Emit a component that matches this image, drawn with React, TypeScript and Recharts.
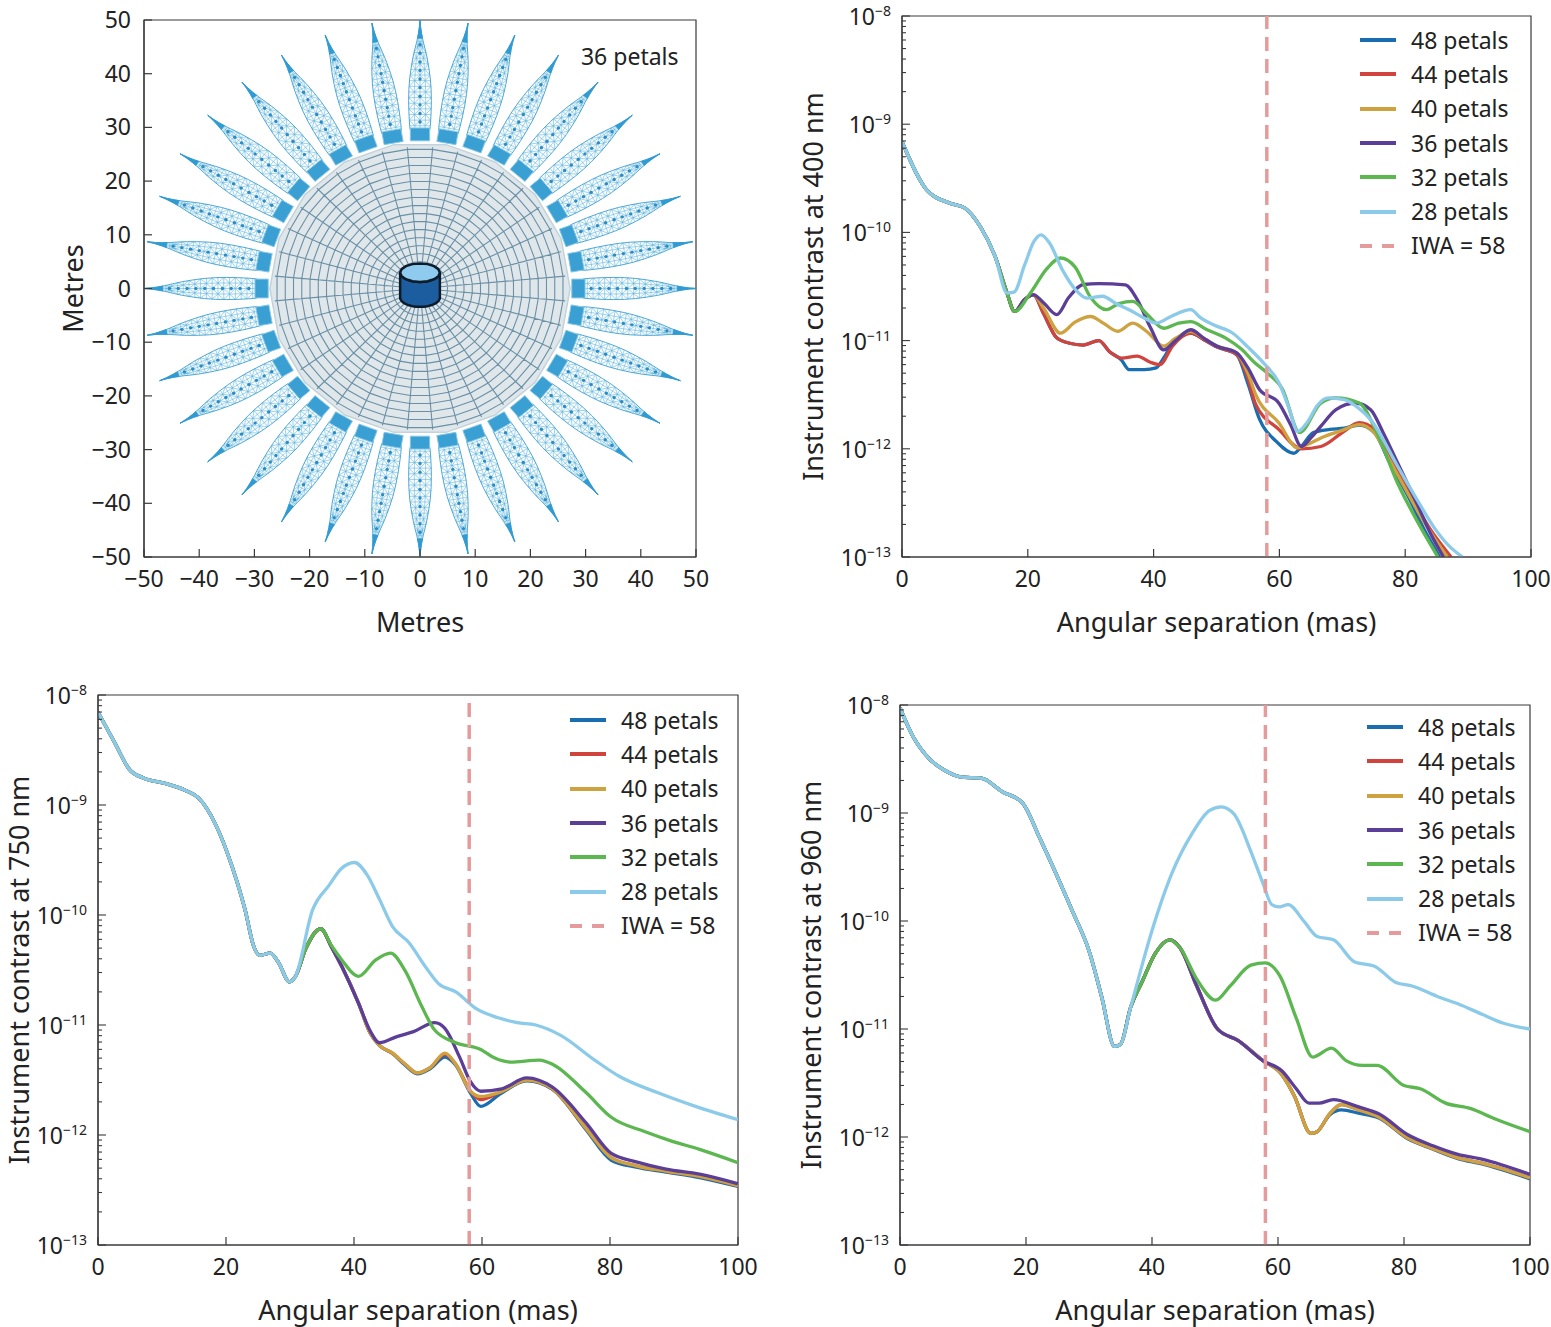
import React from 'react';
import {
  LineChart,
  Line,
  XAxis,
  YAxis,
  ReferenceLine,
  ReferenceArea,
  ReferenceDot,
  Legend,
  ScatterChart,
  Scatter,
} from 'recharts';

type Pair = [number, number];
type Pt = { x: number; y: number };

const FONT = '"Noto Sans", "Open Sans", sans-serif';
const INK = '#222';
const AXIS = '#3a3a3a';
const IWA_COLOR = '#e59b9b';

// ---- tick labels ----
const xTicks = [0, 20, 40, 60, 80, 100];
const metreTicks = [-50, -40, -30, -20, -10, 0, 10, 20, 30, 40, 50];
const decades = [-13, -12, -11, -10, -9, -8];
const minorSteps = [1, 2, 3, 4, 5, 6, 7, 8, 9];
const logTicks = decades.flatMap((d, i) =>
  i === decades.length - 1 ? [10 ** d] : minorSteps.map((k) => k * 10 ** d)
);

const SERIES = [
  { key: '48', name: '48 petals', color: '#1a6eb0' },
  { key: '44', name: '44 petals', color: '#d1443d' },
  { key: '40', name: '40 petals', color: '#cda23f' },
  { key: '36', name: '36 petals', color: '#5b3e97' },
  { key: '32', name: '32 petals', color: '#5cb750' },
  { key: '28', name: '28 petals', color: '#8ccaea' },
];
const IWA = 58;

// ---- contrast at 400 nm ----
const c400: Pair[] = [[0, 6.9e-10], [3.9, 2.48e-10], [7.5, 1.87e-10], [10, 1.68e-10], [12.4, 1.14e-10], [14.8, 6.0e-11], [16.7, 2.75e-11]];
const b400: Pair[] = [...c400, [17.9, 1.86e-11], [19.5, 2.4e-11], [20.9, 2.65e-11]];
const s400_48: Pair[] = [...b400, [22.5, 1.78e-11], [24.6, 1.06e-11], [26.5, 9.5e-12], [28.8, 9.1e-12], [31.3, 1.0e-11], [33, 7.9e-12], [34.9, 6.6e-12], [36.1, 5.4e-12], [38.5, 5.4e-12], [40.4, 5.6e-12], [41.6, 6.9e-12], [43, 9.3e-12], [45.9, 1.17e-11], [48, 1.02e-11], [50.1, 8.7e-12], [53.2, 7.4e-12], [55, 4.0e-12], [56.8, 1.9e-12], [59.5, 1.17e-12], [62.3, 9.1e-13], [63.5, 1.05e-12], [65.4, 1.41e-12], [68, 1.51e-12], [70.3, 1.55e-12], [72.7, 1.66e-12], [75.1, 1.41e-12], [77.5, 7.5e-13], [80.5, 3.6e-13], [83, 1.8e-13], [85.5, 1e-13]];
const s400_44: Pair[] = [...b400, [22.5, 1.78e-11], [24.6, 1.06e-11], [26.5, 9.5e-12], [28.8, 9.1e-12], [31.3, 1.0e-11], [33, 7.9e-12], [34.9, 6.9e-12], [37.4, 7.2e-12], [39.5, 6.3e-12], [41, 6.0e-12], [43, 8.9e-12], [45.9, 1.17e-11], [48, 1.02e-11], [50.1, 8.7e-12], [53.2, 7.4e-12], [55, 4.5e-12], [56.2, 2.6e-12], [59.9, 1.51e-12], [63.5, 1.0e-12], [66.6, 1.05e-12], [70, 1.41e-12], [72.7, 1.74e-12], [75.1, 1.51e-12], [77.5, 8.5e-13], [80.5, 4.0e-13], [84, 1.8e-13], [87.3, 1e-13]];
const s400_40: Pair[] = [...b400, [22.5, 2.0e-11], [25.2, 1.17e-11], [27.5, 1.48e-11], [30, 1.67e-11], [32, 1.45e-11], [34.3, 1.22e-11], [36.7, 1.45e-11], [39, 1.2e-11], [41.6, 8.9e-12], [43.5, 1.05e-11], [45.9, 1.22e-11], [48, 1.05e-11], [50.1, 8.9e-12], [53.2, 7.7e-12], [55, 5.0e-12], [56.2, 3.2e-12], [59.9, 1.74e-12], [62.9, 1.02e-12], [64.5, 1.1e-12], [66.6, 1.26e-12], [70, 1.48e-12], [72.7, 1.67e-12], [75.1, 1.4e-12], [77.5, 7.9e-13], [80, 4.3e-13], [83, 2.1e-13], [86.7, 1e-13]];
const s400_36: Pair[] = [...b400, [22.5, 2.24e-11], [24.6, 1.74e-11], [26.5, 2.5e-11], [28.8, 3.3e-11], [31.3, 3.36e-11], [35.5, 3.28e-11], [37.4, 2.39e-11], [39.5, 1.32e-11], [41.6, 8.2e-12], [43.5, 1.0e-11], [45.9, 1.26e-11], [48, 1.05e-11], [50.1, 8.85e-12], [53.2, 7.7e-12], [55, 5.6e-12], [56.8, 3.55e-12], [59.9, 2.65e-12], [61.8, 1.66e-12], [63.5, 1.05e-12], [65, 1.26e-12], [66.6, 1.62e-12], [69, 2.3e-12], [72.1, 2.65e-12], [74.5, 2.3e-12], [76.5, 1.41e-12], [78.8, 7.4e-13], [82, 3.0e-13], [84, 1.66e-13], [86.1, 1e-13]];
const s400_32: Pair[] = [...c400, [17.9, 1.86e-11], [20.5, 2.8e-11], [23, 4.6e-11], [25.2, 5.8e-11], [27.5, 4.8e-11], [30, 2.5e-11], [32.5, 1.93e-11], [34.5, 2.2e-11], [36.7, 2.3e-11], [39, 1.74e-11], [41.6, 1.3e-11], [44, 1.45e-11], [45.9, 1.5e-11], [48.5, 1.26e-11], [51.4, 1.06e-11], [54, 8.3e-12], [56, 6.3e-12], [58.1, 5.0e-12], [60.5, 3.55e-12], [63.2, 1.41e-12], [66.6, 2.65e-12], [69, 2.95e-12], [72.7, 2.65e-12], [75.5, 1.41e-12], [78.8, 4.8e-13], [82, 2.1e-13], [85.2, 1e-13]];
const s400_28: Pair[] = [...c400, [17.8, 2.8e-11], [19.5, 5.0e-11], [21, 8.3e-11], [22.1, 9.5e-11], [23.5, 7.9e-11], [25.5, 4.5e-11], [27.6, 2.95e-11], [29.4, 2.47e-11], [31.9, 2.57e-11], [34, 2.2e-11], [36.1, 1.93e-11], [38.5, 1.62e-11], [40.4, 1.45e-11], [43, 1.7e-11], [45.9, 1.93e-11], [47.5, 1.62e-11], [49.5, 1.4e-11], [52.6, 1.17e-11], [55, 8.7e-12], [57.5, 6.2e-12], [59.9, 4.1e-12], [61.5, 2.4e-12], [62.9, 1.45e-12], [64.5, 1.78e-12], [66, 2.5e-12], [67.8, 2.95e-12], [70.3, 2.85e-12], [72.5, 2.4e-12], [74.5, 1.86e-12], [78.8, 6.9e-13], [82, 3.3e-13], [84.8, 1.8e-13], [87, 1.26e-13], [89.1, 1e-13]];

// ---- contrast at 750 nm ----
const c750: Pair[] = [[0, 6.98e-9], [2.6, 3.7e-9], [4.9, 2.11e-9], [7.2, 1.75e-9], [10.5, 1.57e-9], [13.75, 1.35e-9], [15.7, 1.16e-9], [18.4, 6.6e-10], [21, 2.7e-10], [23, 1.1e-10], [24.3, 5.25e-11], [25.3, 4.3e-11], [26.9, 4.5e-11], [28.2, 3.7e-11], [29.9, 2.47e-11], [30.85, 2.77e-11]];
const b750: Pair[] = [...c750, [32.5, 5.0e-11], [34.8, 7.5e-11], [36.5, 5.1e-11], [38.1, 3.4e-11], [40.7, 1.58e-11]];
const s750_48: Pair[] = [...b750, [42.5, 8.5e-12], [44, 6.5e-12], [46, 5.5e-12], [48, 4.3e-12], [49.9, 3.6e-12], [51.9, 4.0e-12], [54.2, 5.1e-12], [55.9, 4.3e-12], [58.2, 2.4e-12], [59.8, 1.82e-12], [62.8, 2.35e-12], [67, 3.1e-12], [71, 2.6e-12], [76.25, 1.12e-12], [80.2, 5.9e-13], [84.1, 5.1e-13], [88.75, 4.6e-13], [94, 4.1e-13], [100, 3.4e-13]];
const s750_44: Pair[] = [...b750, [42.5, 8.5e-12], [44, 6.5e-12], [46, 5.55e-12], [48, 4.4e-12], [49.9, 3.67e-12], [51.9, 4.1e-12], [54.2, 5.4e-12], [55.9, 4.4e-12], [58.2, 2.5e-12], [59.8, 2.1e-12], [62.8, 2.45e-12], [67, 3.16e-12], [71, 2.63e-12], [76.25, 1.15e-12], [80.2, 6.2e-13], [84.1, 5.25e-13], [88.75, 4.7e-13], [94, 4.2e-13], [100, 3.47e-13]];
const s750_40: Pair[] = [...b750, [42.5, 8.5e-12], [44, 6.5e-12], [46, 5.55e-12], [48, 4.4e-12], [49.9, 3.67e-12], [51.9, 4.1e-12], [54.2, 5.55e-12], [55.9, 4.4e-12], [58.2, 2.5e-12], [59.8, 2.24e-12], [62.8, 2.45e-12], [67, 3.16e-12], [71, 2.63e-12], [76.25, 1.15e-12], [80.2, 6.2e-13], [84.1, 5.25e-13], [88.75, 4.7e-13], [94, 4.2e-13], [100, 3.47e-13]];
const s750_36: Pair[] = [...b750, [42.5, 8.9e-12], [44, 6.9e-12], [46.6, 7.8e-12], [49.3, 8.7e-12], [52.6, 1.05e-11], [54.2, 9.3e-12], [56.5, 5.1e-12], [58.2, 3.05e-12], [59.8, 2.5e-12], [63.1, 2.63e-12], [67, 3.3e-12], [71, 2.72e-12], [76.25, 1.29e-12], [80.2, 6.8e-13], [84.1, 5.7e-13], [88.75, 4.9e-13], [94, 4.4e-13], [100, 3.6e-13]];
const s750_32: Pair[] = [...c750, [32.5, 5.0e-11], [34.8, 7.5e-11], [36.5, 5.25e-11], [38.1, 3.9e-11], [40.7, 2.77e-11], [43.4, 3.9e-11], [45.7, 4.5e-11], [48, 3.1e-11], [50.6, 1.47e-11], [52.6, 9.0e-12], [55.9, 6.9e-12], [59.8, 6.0e-12], [62, 5.0e-12], [64.4, 4.6e-12], [69, 4.8e-12], [71, 4.4e-12], [76.25, 2.43e-12], [80.2, 1.45e-12], [85.5, 1.07e-12], [89.4, 8.9e-13], [94, 7.4e-13], [100, 5.6e-13]];
const s750_28: Pair[] = [...c750, [33.5, 1.1e-10], [36.1, 1.86e-10], [38, 2.63e-10], [40.1, 3.0e-10], [42, 2.34e-10], [44, 1.38e-10], [46, 7.9e-11], [48.6, 5.6e-11], [51.25, 3.33e-11], [53.2, 2.38e-11], [55.9, 2.0e-11], [59.1, 1.41e-11], [62.4, 1.17e-11], [65.5, 1.05e-11], [68.4, 1.0e-11], [72.3, 8.05e-12], [77.6, 4.8e-12], [81.5, 3.4e-12], [87.4, 2.43e-12], [93.35, 1.82e-12], [100, 1.38e-12]];

// ---- contrast at 960 nm ----
const c960: Pair[] = [[0, 9.4e-9], [2, 5.2e-9], [4.7, 3.16e-9], [7, 2.5e-9], [9.6, 2.16e-9], [12.9, 2.1e-9], [16.2, 1.58e-9], [19.5, 1.23e-9], [22.1, 6.0e-10], [24.7, 2.8e-10], [27.4, 1.22e-10], [30, 5.3e-11], [32, 2.0e-11], [34.05, 6.9e-12], [35, 7.2e-12], [36.6, 1.58e-11]];
const p960: Pair[] = [...c960, [38.5, 2.8e-11], [40.5, 5.0e-11], [42.8, 6.7e-11], [44.5, 5.6e-11]];
const b960: Pair[] = [...p960, [47.1, 2.5e-11], [50.4, 1.0e-11], [53.7, 7.8e-12], [57.6, 5.1e-12]];
const s960_48: Pair[] = [...b960, [60.6, 3.8e-12], [62.6, 2.4e-12], [65.2, 1.08e-12], [66.2, 1.12e-12], [68.2, 1.6e-12], [70.1, 1.78e-12], [72.8, 1.66e-12], [76, 1.5e-12], [80.6, 9.6e-13], [84.6, 7.7e-13], [88.55, 6.3e-13], [92.5, 5.6e-13], [100, 4.1e-13]];
const s960_44: Pair[] = [...b960, [60.6, 3.8e-12], [62.6, 2.4e-12], [65.2, 1.08e-12], [66.2, 1.12e-12], [68.2, 1.64e-12], [70.1, 2.0e-12], [72.8, 1.78e-12], [76, 1.53e-12], [80.6, 9.8e-13], [84.6, 7.8e-13], [88.55, 6.4e-13], [92.5, 5.7e-13], [100, 4.2e-13]];
const s960_40: Pair[] = [...b960, [60.6, 3.8e-12], [62.6, 2.4e-12], [65.2, 1.08e-12], [66.2, 1.12e-12], [68.2, 1.64e-12], [70.1, 2.0e-12], [72.8, 1.78e-12], [76, 1.53e-12], [80.6, 9.8e-13], [84.6, 7.8e-13], [88.55, 6.4e-13], [92.5, 5.7e-13], [100, 4.2e-13]];
const s960_36: Pair[] = [...b960, [60.6, 4.1e-12], [62.9, 2.8e-12], [64.9, 2.06e-12], [66.5, 2.06e-12], [68.8, 2.22e-12], [72.8, 1.9e-12], [76, 1.64e-12], [80.6, 1.05e-12], [84.6, 8.3e-13], [88.55, 6.9e-13], [92.5, 6.2e-13], [100, 4.5e-13]];
const s960_32: Pair[] = [...p960, [47.1, 2.9e-11], [50.1, 1.85e-11], [52.4, 2.5e-11], [55.7, 3.9e-11], [58, 4.1e-11], [60.3, 3.1e-11], [62.9, 1.26e-11], [65.5, 5.5e-12], [68.5, 6.65e-12], [70.8, 5.1e-12], [73.4, 4.6e-12], [75.7, 4.6e-12], [80, 3.0e-12], [82.6, 2.8e-12], [86.6, 2.06e-12], [90.5, 1.84e-12], [94.5, 1.47e-12], [100, 1.12e-12]];
const s960_28: Pair[] = [...c960, [39.9, 7.8e-11], [43.2, 2.8e-10], [46.4, 6.5e-10], [49.1, 1.05e-9], [51, 1.14e-9], [53, 9.8e-10], [55.7, 4.4e-10], [57.6, 2.24e-10], [59, 1.42e-10], [60.2, 1.35e-10], [61.6, 1.42e-10], [64.2, 9.8e-11], [66.2, 7.2e-11], [68.8, 6.7e-11], [72.1, 4.2e-11], [75.4, 3.8e-11], [78.7, 2.7e-11], [81.3, 2.5e-11], [85.3, 2.0e-11], [88.55, 1.71e-11], [92.5, 1.36e-11], [95.8, 1.13e-11], [100, 1.0e-11]];

const data400 = { '48': s400_48, '44': s400_44, '40': s400_40, '36': s400_36, '32': s400_32, '28': s400_28 };
const data750 = { '48': s750_48, '44': s750_44, '40': s750_40, '36': s750_36, '32': s750_32, '28': s750_28 };
const data960 = { '48': s960_48, '44': s960_44, '40': s960_40, '36': s960_36, '32': s960_32, '28': s960_28 };

// ---- starshade layout (metres) ----
const PETAL_COUNT = 36;
// radius along petal, half-width of petal
const petalProfile: Pair[] = [[29.6, 1.8], [31, 1.92], [33, 2.02], [35, 2.06], [37, 2.02], [39, 1.88], [41, 1.62], [43, 1.28], [44.5, 0.95], [46, 0.58], [47.5, 0.28], [48.8, 0.1], [50.2, 0]];
const diskRadius = 27.2;
const ringRadii = [5, 6.5, 8, 9.5, 11, 12.5, 14, 15.5, 17, 18.5, 20, 21.5, 23, 24.5, 26];
const block = { inner: 27.5, outer: 29.9, half: 1.75 };
const hub = { rx: 3.6, ry: 1.72, top: 2.95, bottom: -1.7 };

const deg = Math.PI / 180;
const toPts = (arr: Pair[]): Pt[] => arr.map(([x, y]) => ({ x, y }));
const halfWidth = (r: number) => {
  const p = petalProfile;
  if (r <= p[0][0]) return p[0][1];
  for (let i = 1; i < p.length; i++) {
    if (r <= p[i][0]) {
      const [r0, w0] = p[i - 1];
      const [r1, w1] = p[i];
      return w0 + ((w1 - w0) * (r - r0)) / (r1 - r0);
    }
  }
  return 0;
};
const place = (r: number, w: number, th: number): Pt => ({
  x: r * Math.cos(th) - w * Math.sin(th),
  y: r * Math.sin(th) + w * Math.cos(th),
});
const petalAngles = Array.from({ length: PETAL_COUNT }, (_, k) => (90 + (360 / PETAL_COUNT) * k) * deg);
const profileR = petalProfile.map((p) => p[0]);
const rungR = Array.from({ length: 16 }, (_, i) => 30.3 + 1.05 * i);
const dotR = Array.from({ length: 10 }, (_, i) => 31 + 1.6 * i);

const layer = (polys: Pt[][]) => ({ data: polys.flat(), lens: polys.map((p) => p.length) });

const outlineLayer = layer(
  petalAngles.map((th) => [
    ...profileR.map((r) => place(r, halfWidth(r), th)),
    ...[...profileR].reverse().map((r) => place(r, -halfWidth(r), th)),
  ])
);
const tipR = [46.6, 47.5, 48.8, 50.2];
const tipLayer = layer(
  petalAngles.map((th) => [
    ...tipR.map((r) => place(r, halfWidth(r), th)),
    ...[...tipR].reverse().map((r) => place(r, -halfWidth(r), th)),
  ])
);
const meshPolys: Pt[][] = [];
petalAngles.forEach((th) => {
  meshPolys.push([place(29.6, 0, th), place(49.5, 0, th)]);
  [-0.5, 0.5].forEach((f) =>
    meshPolys.push(profileR.filter((r) => r <= 47.5).map((r) => place(r, f * halfWidth(r), th)))
  );
  rungR.forEach((r) => meshPolys.push([place(r, -halfWidth(r), th), place(r, halfWidth(r), th)]));
  [1, -1].forEach((s) => {
    meshPolys.push(rungR.map((r, i) => place(r, (i % 2 ? 1 : 0.5) * s * halfWidth(r), th)));
    meshPolys.push(rungR.map((r, i) => place(r, (i % 2 ? 0 : 0.5) * s * halfWidth(r), th)));
  });
});
const meshLayer = layer(meshPolys);
const dotData = petalAngles.flatMap((th) => dotR.map((r) => place(r, 0, th)));

const diskLayer = layer([Array.from({ length: 18 }, (_, k) => place(diskRadius, 0, (100 + 20 * k) * deg))]);
const spokeAngles = Array.from({ length: 36 }, (_, k) => (95 + 10 * k) * deg);
const gridLayer = layer([
  ...spokeAngles.map((a) => [place(3.2, 0, a), place(26.4, 0, a)]),
  ...ringRadii.map((r) => [...spokeAngles, spokeAngles[0]].map((a) => place(r, 0, a))),
]);
const blockLayer = layer(
  petalAngles.map((th) => [
    place(block.inner, -block.half, th),
    place(block.outer, -block.half, th),
    place(block.outer, block.half, th),
    place(block.inner, block.half, th),
  ])
);
const arc = (cy: number, from: number, to: number) => {
  const n = 16;
  return Array.from({ length: n + 1 }, (_, i) => {
    const t = (from + ((to - from) * i) / n) * deg;
    return { x: hub.rx * Math.cos(t), y: cy + hub.ry * Math.sin(t) };
  });
};
const hubBodyLayer = layer([[...arc(hub.bottom, 180, 360), ...arc(hub.top, 360, 180)]]);
const hubTopLayer = layer([arc(hub.top, 0, 360)]);

const polyRenderer =
  (lens: number[], style: React.SVGProps<SVGPathElement>, closed: boolean) => (props: any) => {
    const pts: Pt[] = props.points || [];
    let d = '';
    let i = 0;
    lens.forEach((n) => {
      const seg = pts.slice(i, i + n);
      i += n;
      if (seg.length > 1) d += 'M' + seg.map((p) => `${p.x.toFixed(2)},${p.y.toFixed(2)}`).join('L') + (closed ? 'Z' : '');
    });
    return <path d={d} {...style} />;
  };

const noShape = () => <g />;

// ---- ticks & labels ----
const fmtNum = (v: number) => (v < 0 ? '\u2212' + Math.abs(v) : String(v));

const XTick = (props: any) => {
  const { x, y, payload } = props;
  return (
    <g>
      <line x1={x} x2={x} y1={y} y2={y - 8} stroke={AXIS} strokeWidth={1.2} />
      <text x={x} y={y + 30} textAnchor="middle" fontSize={23} fontFamily={FONT} fill={INK}>
        {fmtNum(payload.value)}
      </text>
    </g>
  );
};

const LinYTick = (props: any) => {
  const { x, y, payload } = props;
  return (
    <g>
      <line x1={x} x2={x + 8} y1={y} y2={y} stroke={AXIS} strokeWidth={1.2} />
      <text x={x - 13} y={y + 8} textAnchor="end" fontSize={23} fontFamily={FONT} fill={INK}>
        {fmtNum(payload.value)}
      </text>
    </g>
  );
};

const LogTick = (props: any) => {
  const { x, y, payload } = props;
  const lg = Math.log10(payload.value);
  const e = Math.round(lg);
  const major = Math.abs(lg - e) < 1e-6;
  return (
    <g>
      <line x1={x} x2={x + (major ? 8 : 4)} y1={y} y2={y} stroke={AXIS} strokeWidth={1.1} />
      {major && (
        <text x={x - 11} y={y + 9} textAnchor="end" fontSize={23} fontFamily={FONT} fill={INK}>
          10
          <tspan dy={-9} fontSize={14}>
            {'\u2212' + Math.abs(e)}
          </tspan>
        </text>
      )}
    </g>
  );
};

const titleText = (x: number, y: number, text: string, rotate = false) => () =>
  (
    <text
      x={x}
      y={y}
      textAnchor="middle"
      dominantBaseline={rotate ? 'central' : 'auto'}
      transform={rotate ? `rotate(-90 ${x} ${y})` : undefined}
      fontSize={27}
      fontFamily={FONT}
      fill={INK}
    >
      {text}
    </text>
  );

const LegendBox = () => (
  <div style={{ fontFamily: FONT, fontSize: 23, color: INK, lineHeight: 1 }}>
    {SERIES.map((s) => (
      <div key={s.key} style={{ display: 'flex', alignItems: 'center', height: 34.3 }}>
        <svg width={36} height={8} style={{ marginRight: 15 }}>
          <line x1={0} x2={36} y1={4} y2={4} stroke={s.color} strokeWidth={4} />
        </svg>
        <span>{s.name}</span>
      </div>
    ))}
    <div style={{ display: 'flex', alignItems: 'center', height: 34.3 }}>
      <svg width={36} height={8} style={{ marginRight: 15 }}>
        <line x1={0} x2={36} y1={4} y2={4} stroke={IWA_COLOR} strokeWidth={4} strokeDasharray="12 10" />
      </svg>
      <span>IWA = 58</span>
    </div>
  </div>
);

type PanelProps = {
  left: number;
  top: number;
  width: number;
  height: number;
  margin: { top: number; right: number; bottom: number; left: number };
  yWidth: number;
  xHeight: number;
  series: Record<string, Pair[]>;
  yLabel: string;
  yLabelX: number;
  legendLeft: number;
  legendTop: number;
};

const ContrastPanel = (p: PanelProps) => {
  const plotLeft = p.margin.left + p.yWidth;
  const plotRight = p.width - p.margin.right;
  const plotTop = p.margin.top;
  const plotBottom = p.height - p.margin.bottom - p.xHeight;
  return (
    <div style={{ position: 'absolute', left: p.left, top: p.top }}>
      <LineChart width={p.width} height={p.height} margin={p.margin}>
        <XAxis
          type="number"
          dataKey="x"
          domain={[0, 100]}
          ticks={xTicks}
          interval={0}
          allowDataOverflow
          height={p.xHeight}
          tickLine={false}
          tickSize={0}
          tickMargin={0}
          tick={<XTick />}
          axisLine={{ stroke: AXIS, strokeWidth: 1.2 }}
          label={{ content: titleText((plotLeft + plotRight) / 2, plotBottom + 75, 'Angular separation (mas)') }}
        />
        <YAxis
          type="number"
          dataKey="y"
          scale="log"
          domain={[1e-13, 1e-8]}
          ticks={logTicks}
          interval={0}
          allowDataOverflow
          width={p.yWidth}
          tickLine={false}
          tickSize={0}
          tickMargin={0}
          tick={<LogTick />}
          axisLine={{ stroke: AXIS, strokeWidth: 1.2 }}
          label={{ content: titleText(p.yLabelX, (plotTop + plotBottom) / 2, p.yLabel, true) }}
        />
        <ReferenceArea x1={0} x2={100} y1={1e-13} y2={1e-8} fill="none" stroke={AXIS} strokeWidth={1.2} />
        {SERIES.map((s) => (
          <Line
            key={s.key}
            data={toPts(p.series[s.key])}
            dataKey="y"
            type="monotone"
            stroke={s.color}
            strokeWidth={3.3}
            strokeLinejoin="round"
            dot={false}
            activeDot={false}
            isAnimationActive={false}
          />
        ))}
        <ReferenceLine x={IWA} stroke={IWA_COLOR} strokeWidth={3.5} strokeDasharray="14 8" />
        <Legend
          layout="vertical"
          align="center"
          verticalAlign="middle"
          content={() => <LegendBox />}
          wrapperStyle={{ left: p.legendLeft, top: p.legendTop, width: 'auto', height: 'auto' }}
        />
      </LineChart>
    </div>
  );
};

const Starshade = () => (
  <div style={{ position: 'absolute', left: 0, top: 0 }}>
    <ScatterChart width={760} height={660} margin={{ top: 20, right: 64, bottom: 0, left: 0 }}>
      <XAxis
        type="number"
        dataKey="x"
        domain={[-50, 50]}
        ticks={metreTicks}
        interval={0}
        allowDataOverflow
        height={103}
        tickLine={false}
        tickSize={0}
        tickMargin={0}
        tick={<XTick />}
        axisLine={{ stroke: AXIS, strokeWidth: 1.2 }}
        label={{ content: titleText(420, 632, 'Metres') }}
      />
      <YAxis
        type="number"
        dataKey="y"
        domain={[-50, 50]}
        ticks={metreTicks}
        interval={0}
        allowDataOverflow
        width={144}
        tickLine={false}
        tickSize={0}
        tickMargin={0}
        tick={<LinYTick />}
        axisLine={{ stroke: AXIS, strokeWidth: 1.2 }}
        label={{ content: titleText(72, 288.5, 'Metres', true) }}
      />
      <ReferenceArea x1={-50} x2={50} y1={-50} y2={50} fill="none" stroke={AXIS} strokeWidth={1.2} />
      <Scatter data={outlineLayer.data} shape={noShape} isAnimationActive={false}
        line={polyRenderer(outlineLayer.lens, { fill: '#f8fcfe', stroke: '#3a9dd0', strokeWidth: 0.9 }, true)} />
      <Scatter data={meshLayer.data} shape={noShape} isAnimationActive={false}
        line={polyRenderer(meshLayer.lens, { fill: 'none', stroke: '#58b0da', strokeWidth: 0.55 }, false)} />
      <Scatter data={tipLayer.data} shape={noShape} isAnimationActive={false}
        line={polyRenderer(tipLayer.lens, { fill: '#2f9bd2', stroke: '#2f9bd2', strokeWidth: 0.8 }, true)} />
      <Scatter data={dotData} isAnimationActive={false}
        shape={(s: any) => <circle cx={s.cx} cy={s.cy} r={1.7} fill="#2a8cc4" />} />
      <Scatter data={diskLayer.data} shape={noShape} isAnimationActive={false}
        line={polyRenderer(diskLayer.lens, { fill: '#e0e7ea', stroke: '#c4d3db', strokeWidth: 1.5 }, true)} />
      <Scatter data={gridLayer.data} shape={noShape} isAnimationActive={false}
        line={polyRenderer(gridLayer.lens, { fill: 'none', stroke: '#6a90a6', strokeWidth: 1.1 }, false)} />
      <Scatter data={blockLayer.data} shape={noShape} isAnimationActive={false}
        line={polyRenderer(blockLayer.lens, { fill: '#3a9fd2', stroke: '#86c8e8', strokeWidth: 1 }, true)} />
      <Scatter data={hubBodyLayer.data} shape={noShape} isAnimationActive={false}
        line={polyRenderer(hubBodyLayer.lens, { fill: '#1b5d9f', stroke: '#0d1b2a', strokeWidth: 2.5, strokeLinejoin: 'round' }, true)} />
      <Scatter data={hubTopLayer.data} shape={noShape} isAnimationActive={false}
        line={polyRenderer(hubTopLayer.lens, { fill: '#8ecbee', stroke: '#0d1b2a', strokeWidth: 2.5 }, true)} />
      <ReferenceDot x={38} y={43.2} r={1} fill="none" stroke="none"
        label={{ value: '36 petals', position: 'center', fontSize: 23, fontFamily: FONT, fill: INK }} />
    </ScatterChart>
  </div>
);

export default function App() {
  return (
    <div style={{ position: 'relative', width: 1551, height: 1327, background: '#fff', overflow: 'hidden', fontFamily: FONT }}>
      <style>{'body{margin:0}'}</style>
      <Starshade />
      <ContrastPanel
        left={760} top={0} width={791} height={660}
        margin={{ top: 16, right: 20, bottom: 0, left: 0 }}
        yWidth={142} xHeight={103}
        series={data400}
        yLabel="Instrument contrast at 400 nm" yLabelX={52}
        legendLeft={600} legendTop={23}
      />
      <ContrastPanel
        left={0} top={660} width={760} height={667}
        margin={{ top: 35, right: 22, bottom: 0, left: 0 }}
        yWidth={98} xHeight={82}
        series={data750}
        yLabel="Instrument contrast at 750 nm" yLabelX={18}
        legendLeft={570} legendTop={43}
      />
      <ContrastPanel
        left={760} top={660} width={791} height={667}
        margin={{ top: 45, right: 21, bottom: 0, left: 0 }}
        yWidth={140} xHeight={82}
        series={data960}
        yLabel="Instrument contrast at 960 nm" yLabelX={50}
        legendLeft={607} legendTop={50}
      />
    </div>
  );
}
